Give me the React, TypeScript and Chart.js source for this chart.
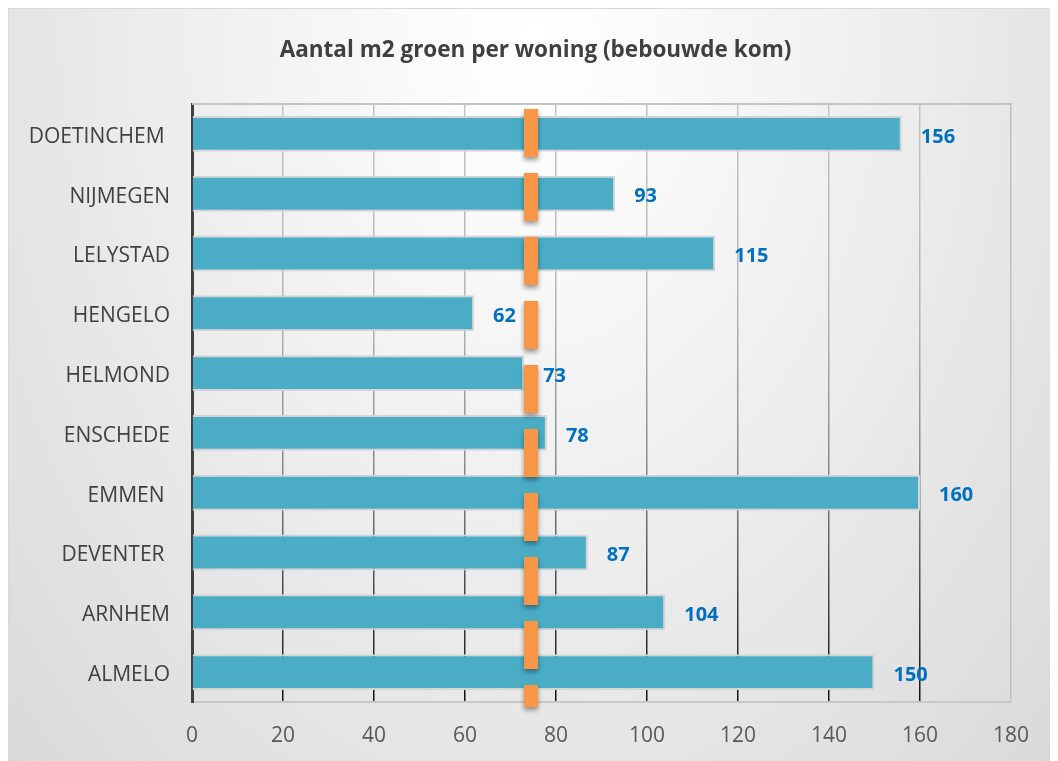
import React, { useEffect, useRef } from "react";
import { Chart, registerables } from "chart.js";

Chart.register(...registerables);

const TITLE = "Aantal m2 groen per woning (bebouwde kom)";
const CATEGORIES = [
  "DOETINCHEM ",
  "NIJMEGEN",
  "LELYSTAD",
  "HENGELO",
  "HELMOND",
  "ENSCHEDE",
  "EMMEN ",
  "DEVENTER ",
  "ARNHEM",
  "ALMELO",
];
const VALUES = [156, 93, 115, 62, 73, 78, 160, 87, 104, 150];
const REFERENCE_VALUE = 74.5;
const X_MIN = 0;
const X_MAX = 180;
const X_STEP = 20;

const W = 1049;
const H = 770;

export default function App() {
  const canvasRef = useRef<HTMLCanvasElement | null>(null);

  useEffect(() => {
    document.documentElement.style.overflow = "hidden";
    document.body.style.overflow = "hidden";
    const canvas = canvasRef.current;
    if (!canvas) return;

    const titlePlugin = {
      id: "titleText",
      afterDraw(chart: any) {
        const { ctx } = chart;
        ctx.save();
        ctx.font = "bold 22.5px 'Open Sans'";
        ctx.fillStyle = "#404040";
        ctx.textAlign = "center";
        ctx.textBaseline = "middle";
        ctx.fillText(TITLE, chart.width / 2 + 2, 42);
        ctx.restore();
      },
    };

    const plotFrame = {
      id: "plotFrame",
      beforeDatasetsDraw(chart: any) {
        const { ctx, chartArea } = chart;
        ctx.save();
        ctx.strokeStyle = "#c4c4c4";
        ctx.lineWidth = 2;
        ctx.beginPath();
        ctx.moveTo(chartArea.left, chartArea.top);
        ctx.lineTo(chartArea.right + 1, chartArea.top);
        ctx.stroke();
        ctx.restore();
      },
    };

    const refLine = {
      id: "refLine",
      afterDatasetsDraw(chart: any) {
        const { ctx, chartArea } = chart;
        const x = chart.scales.x.getPixelForValue(REFERENCE_VALUE);
        ctx.save();
        ctx.strokeStyle = "#F79646";
        ctx.lineWidth = 14;
        ctx.lineCap = "butt";
        ctx.setLineDash([48, 16]);
        ctx.shadowColor = "rgba(0,0,0,0.4)";
        ctx.shadowBlur = 5;
        ctx.shadowOffsetX = 0;
        ctx.shadowOffsetY = 3;
        ctx.beginPath();
        ctx.moveTo(x, chartArea.top + 5);
        ctx.lineTo(x, chartArea.bottom + 5);
        ctx.stroke();
        ctx.restore();
      },
    };

    const dataLabels = {
      id: "dataLabels",
      afterDatasetsDraw(chart: any) {
        const { ctx } = chart;
        const meta = chart.getDatasetMeta(0);
        ctx.save();
        ctx.font = "bold 20px 'Open Sans'";
        ctx.fillStyle = "#0070C0";
        ctx.textAlign = "left";
        ctx.textBaseline = "middle";
        meta.data.forEach((bar: any, i: number) => {
          ctx.fillText(String(VALUES[i]), bar.x + 19, bar.y + 3);
        });
        ctx.restore();
      },
    };

    const gridColor = (c: any) => {
      if (c.tick && c.tick.value === X_MAX) return "#c0c0c0";
      const chart = c.chart;
      const area = chart.chartArea;
      if (!area) return "#bbbbbb";
      const g = chart.ctx.createLinearGradient(0, area.top, 0, area.bottom);
      g.addColorStop(0, "#c4c4c4");
      g.addColorStop(0.35, "#b4b4b4");
      g.addColorStop(0.6, "#8a8a8a");
      g.addColorStop(1, "#111111");
      return g;
    };

    const chart = new Chart(canvas, {
      type: "bar",
      data: {
        labels: CATEGORIES,
        datasets: [
          {
            data: VALUES,
            backgroundColor: "#4BACC6",
            borderColor: "#d4d4d4",
            borderWidth: 2,
            categoryPercentage: 1,
            barPercentage: 0.6,
          },
        ],
      },
      options: {
        indexAxis: "y",
        responsive: false,
        animation: false,
        layout: { padding: { top: 95, right: 47, bottom: 27, left: 0 } },
        plugins: {
          legend: { display: false },
          tooltip: { enabled: false },
          title: { display: false },
        },
        scales: {
          x: {
            min: X_MIN,
            max: X_MAX,
            ticks: {
              stepSize: X_STEP,
              color: "#595959",
              font: { family: "'Open Sans'", size: 21 },
              padding: 21,
            },
            grid: { color: gridColor as any, lineWidth: 1.5, drawTicks: false },
            border: { display: true, color: "#c8c8c8", width: 2 },
            afterFit(scale: any) {
              scale.height = 50;
            },
          },
          y: {
            ticks: {
              color: "#404040",
              font: { family: "'Open Sans'", size: 21 },
              padding: 22,
              labelOffset: 3,
            },
            grid: { display: false, drawTicks: false },
            border: { display: true, color: "#404040", width: 3 },
            afterFit(scale: any) {
              scale.width = 183;
            },
          },
        },
      },
      plugins: [plotFrame, refLine, dataLabels, titlePlugin],
    });

    return () => chart.destroy();
  }, []);

  return (
    <div
      style={{
        width: W,
        height: H,
        border: "1px solid #d9d9d9",
        background:
          "radial-gradient(ellipse farthest-corner at 50% 4%, #ffffff 0%, #fbfbfb 15%, #ededed 50%, #d9d9d9 100%)",
      }}
    >
      <canvas ref={canvasRef} width={W} height={H} style={{ display: "block", width: W, height: H }} />
    </div>
  );
}
